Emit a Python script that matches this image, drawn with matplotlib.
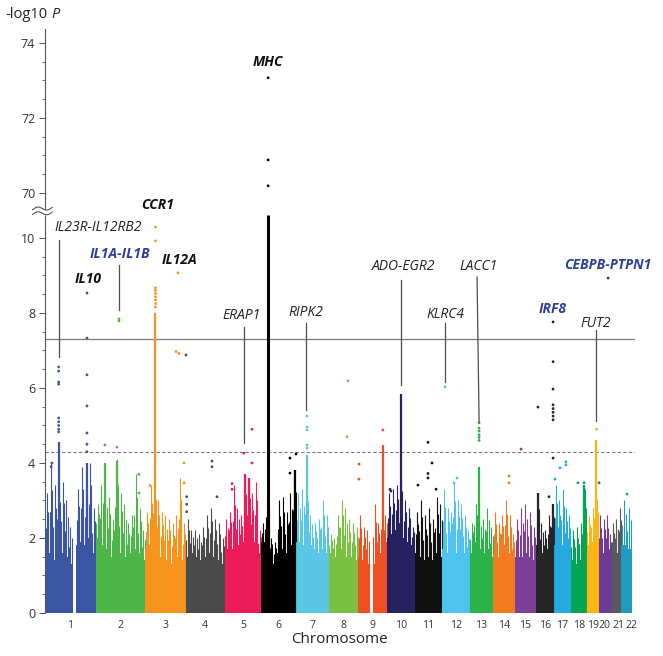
import numpy as np
import matplotlib
matplotlib.use('Agg')
import matplotlib.pyplot as plt

plt.rcParams['font.family'] = ['Open Sans', 'DejaVu Sans']

# ==========================================
# 1. data
# ==========================================
chroms = [str(i) for i in range(1, 23)]
chrom_len = [249, 243, 198, 191, 181, 171, 159, 146, 141, 136, 135,
             134, 115, 107, 103, 90, 81, 78, 59, 63, 48, 51]

# dense body of the cloud (evenly spaced bins along each chromosome)
cloud_core = [
    [1.5, 1.6, 1.4, 1.7, 1.6, 1.5, 1.3, 0, 1.8, 1.9, 1.8, 2.0, 1.6],
    [2.0, 1.8, 1.7, 1.6, 1.5, 1.8, 1.6, 1.5, 1.4, 1.6, 1.7, 1.6, 1.4],
    [1.7, 1.8, 2.0, 1.7, 1.5, 1.4, 1.5, 1.3, 1.5, 1.6, 1.4],
    [1.5, 1.6, 1.5, 1.4, 1.4, 1.5, 1.6, 1.5, 1.4, 1.3],
    [1.7, 1.8, 1.7, 1.8, 1.7, 1.9, 1.8, 1.7, 1.9, 1.6],
    [1.9, 2.2, 1.5, 1.3, 1.6, 1.7, 1.6, 1.8, 1.9],
    [1.9, 1.8, 2.0, 1.8, 1.7, 1.6, 1.7, 1.6],
    [1.6, 1.5, 1.6, 1.7, 1.5, 1.4, 1.5, 1.4],
    [1.5, 1.4, 1.3, 0, 1.3, 1.5, 1.6, 1.9],
    [2.0, 2.1, 2.2, 2.4, 2.0, 1.9, 1.8],
    [1.6, 1.5, 1.4, 1.5, 1.4, 1.6, 1.5],
    [1.7, 1.6, 1.7, 1.8, 1.6, 1.7, 1.6, 1.4],
    [1.6, 1.9, 1.7, 1.6, 1.7, 1.5],
    [1.6, 1.5, 1.7, 1.8, 1.6, 1.4],
    [1.5, 1.5, 1.6, 1.5, 1.4],
    [1.8, 1.6, 1.5, 1.7, 1.8],
    [1.8, 1.7, 1.8, 1.6, 1.5],
    [1.4, 1.3, 1.4, 1.6],
    [1.8, 1.9, 2.0],
    [1.5, 1.6, 1.5, 1.4],
    [1.5, 1.6, 1.7],
    [1.8, 1.7],
]
# ragged upper edge of the cloud, same bins
cloud_top = [
    [3.2, 4.0, 3.4, 3.5, 3.5, 3.0, 2.3, 0, 3.3, 3.9, 3.5, 4.0, 2.8],
    [2.9, 3.4, 3.3, 3.1, 2.5, 4.1, 3.2, 2.9, 2.4, 2.6, 3.7, 2.8, 2.2],
    [2.7, 3.4, 3.5, 3.0, 2.7, 2.6, 2.5, 2.4, 2.6, 3.6, 2.4],
    [2.5, 2.2, 2.2, 2.1, 2.3, 2.6, 2.8, 2.5, 2.4, 2.0],
    [2.5, 2.7, 3.4, 2.8, 2.6, 3.7, 3.6, 3.2, 3.5, 2.2],
    [2.4, 3.0, 2.0, 1.9, 3.0, 3.1, 2.7, 3.2, 3.8],
    [3.2, 3.3, 3.4, 2.6, 2.4, 2.5, 3.0, 2.6],
    [2.1, 2.0, 2.6, 3.0, 2.8, 2.5, 2.4, 2.3],
    [2.6, 2.3, 2.2, 0, 2.9, 2.4, 3.0, 2.6],
    [3.2, 3.3, 3.4, 3.6, 3.0, 2.8, 2.3],
    [2.7, 3.0, 2.6, 2.8, 2.5, 3.1, 2.9],
    [3.3, 2.8, 2.7, 3.5, 3.0, 2.9, 2.6, 2.2],
    [2.4, 2.9, 2.6, 2.5, 2.8, 2.3],
    [2.7, 2.4, 2.6, 3.0, 2.6, 2.1],
    [2.5, 2.8, 2.9, 2.7, 2.3],
    [3.2, 2.4, 2.2, 2.6, 2.9],
    [3.4, 3.0, 3.3, 2.8, 2.6],
    [2.2, 2.3, 2.4, 3.3],
    [2.6, 2.8, 3.0],
    [2.6, 2.5, 2.6, 2.1],
    [2.4, 2.5, 2.8],
    [3.0, 2.8],
]

# densely packed signal columns: chromosome, position (Mb), top -log10 P
col_chrom = [1, 1, 2, 2, 3, 5, 5, 6, 6, 7, 9, 10, 13, 16, 16, 18, 19]
col_pos = [67, 206, 45, 104, 50, 100, 120, 33, 165, 53, 120, 68, 46, 10, 84, 65, 48]
col_top = [4.55, 4.0, 4.0, 4.06, 8.0, 3.7, 3.6, 10.6, 3.8, 4.2, 4.48, 5.84, 3.9, 3.2, 2.9, 3.4, 4.6]

# individual SNPs standing out of the cloud
snp_chrom = ([1] * 9 + [1] * 7 + [1, 1] + [2, 2, 2, 2, 2, 2] + [3] * 9
             + [3, 3, 3, 4, 3, 3, 3] + [4, 4, 4, 4, 4, 4] + [5, 5, 5, 5, 5]
             + [6, 6, 6] + [6, 6, 6] + [7] * 5 + [8, 8] + [9, 9, 9] + [10, 10]
             + [11] * 6 + [12, 12, 12] + [13] * 6 + [14, 14] + [15]
             + [16] * 8 + [16, 16, 16] + [17] * 4 + [18, 18] + [19] + [20, 20] + [22])
snp_pos = ([67] * 9 + [206] * 7 + [34, 30] + [45, 104, 114, 114, 212, 212] + [50] * 9
           + [160.6, 151, 165, 2, 190, 190, 23] + [5, 5, 5, 129, 129, 154]
           + [135, 135, 95, 37, 37]
           + [33, 33, 33] + [140, 140, 170] + [53] * 5 + [95, 90] + [3, 2, 120] + [14, 18]
           + [64, 64, 64, 84, 15, 104] + [13, 72, 57] + [46] * 6 + [78, 78] + [30]
           + [84] * 8 + [10, 84, 64] + [57, 57, 28, 3] + [65, 35] + [48] + [46, 2] + [28])
snp_val = ([6.56, 6.45, 6.16, 6.10, 5.2, 5.1, 5.0, 4.9, 4.83]
           + [8.53, 7.33, 6.35, 5.52, 4.8, 4.5, 4.3] + [4.0, 3.9]
           + [4.48, 4.42, 7.84, 7.79, 3.7, 3.2]
           + [10.29, 9.92, 8.67, 8.6, 8.52, 8.43, 8.35, 8.25, 8.16]
           + [9.07, 6.97, 6.92, 6.88, 4.0, 3.47, 3.4]
           + [3.1, 2.9, 2.7, 4.05, 3.9, 3.1]
           + [4.9, 4.0, 4.26, 3.45, 3.3]
           + [73.07, 70.88, 70.19] + [4.13, 3.73, 4.24]
           + [5.25, 4.96, 4.88, 4.48, 4.4] + [6.19, 4.7] + [3.97, 3.57, 4.88] + [3.3, 3.25]
           + [4.55, 3.72, 3.6, 4.0, 3.41, 3.3] + [6.03, 3.6, 3.47]
           + [5.07, 4.93, 4.85, 4.75, 4.68, 4.6] + [3.65, 3.47] + [4.37]
           + [7.76, 6.7, 5.97, 5.55, 5.45, 5.35, 5.25, 5.15] + [5.49, 4.13, 3.1]
           + [4.03, 3.95, 3.87, 3.57] + [3.47, 3.47] + [4.9] + [8.93, 3.47] + [3.17])

genes = ['MHC', 'CCR1', 'IL23R-IL12RB2', 'IL1A-IL1B', 'IL10', 'IL12A', 'ERAP1', 'RIPK2',
         'ADO-EGR2', 'LACC1', 'KLRC4', 'IRF8', 'FUT2', 'CEBPB-PTPN1']

genome_wide = 7.3
suggestive = 4.3

# ==========================================
# 2. style / layout
# ==========================================
chrom_colors = ['#3a55a4', '#4cb748', '#f7941d', '#4a4a4a', '#ec1b5a', '#000000',
                '#5bc5e6', '#7ac143', '#f04e23', '#262262', '#111111', '#4fc3f0',
                '#2bb34a', '#f47b20', '#7e3f98', '#262626', '#27aae1', '#00a651',
                '#fdb515', '#6f3996', '#58595b', '#1f9bc2']
blue = '#2e3f97'
# label x (genome Mb), label y, bold?, colour, leader line (x0, x1, y_top, y_bottom) or None
gene_layout = {
    'MHC':           (1094, 14.69, True, '#111111', None),
    'CCR1':          (554, 10.88, True, '#111111', None),
    'IL23R-IL12RB2': (260, 10.27, False, '#222222', (69, 69, 9.95, 6.83)),
    'IL1A-IL1B':     (368, 9.57, True, blue, (363, 363, 9.28, 8.08)),
    'IL10':          (211, 8.91, True, '#111111', None),
    'IL12A':         (662, 9.41, True, '#111111', None),
    'ERAP1':         (962, 7.92, False, '#222222', (976, 976, 7.63, 4.53)),
    'RIPK2':         (1281, 8.00, False, '#222222', (1281, 1281, 7.73, 5.41)),
    'ADO-EGR2':      (1757, 9.25, False, '#222222', (1747, 1747, 8.88, 6.08)),
    'LACC1':         (2125, 9.25, False, '#222222', (2120, 2130, 8.96, 5.09)),
    'KLRC4':         (1963, 7.97, False, '#222222', (1963, 1963, 7.73, 6.16)),
    'IRF8':          (2493, 8.11, True, blue, None),
    'FUT2':          (2704, 7.73, False, '#222222', (2704, 2704, 7.55, 5.12)),
    'CEBPB-PTPN1':   (2763, 9.28, True, blue, None),
}
# share of the gap between body and edge reached by each streak inside a bin
streak_share = [0.45, 1.0, 0.7]
# small shifts (Mb) of crowded chromosome labels at the right end
label_nudge = {'20': -4, '21': 10, '22': 22}


def ty(v):
    # broken axis: values from 70 upwards are shifted down onto 11.2
    v = np.asarray(v, dtype=float)
    return np.where(v > 50, v - 70 + 11.2, v)


offsets = np.concatenate([[0], np.cumsum(chrom_len)[:-1]])
centers = offsets + np.array(chrom_len) / 2

fig = plt.figure(figsize=(6.63, 6.56), dpi=100)
ax = fig.add_axes([45 / 663, 43 / 656, 590 / 663, 584 / 656])

# ==========================================
# 3. cloud per chromosome
# ==========================================
for i in range(22):
    core = np.array(cloud_core[i])
    top = np.array(cloud_top[i])
    n = len(core)
    edges = offsets[i] + np.linspace(0, chrom_len[i], n + 1)
    w = edges[1] - edges[0]
    ax.fill_between(edges, 0, np.append(core, core[-1]), step='post',
                    color=chrom_colors[i], lw=0, zorder=2)
    # sparse points between body and edge drawn as thin streaks
    for k, f in enumerate(streak_share):
        xs = edges[:-1] + w * (k + 0.5) / len(streak_share)
        ax.vlines(xs, 0, core + (top - core) * f, color=chrom_colors[i], lw=0.8, zorder=2)

for c, p, t in zip(col_chrom, col_pos, col_top):
    ax.vlines(offsets[c - 1] + p, 0, t, color=chrom_colors[c - 1],
              lw=2.2 if t > 10 else 1.6, zorder=3)

sx = [offsets[c - 1] + p for c, p in zip(snp_chrom, snp_pos)]
scol = [chrom_colors[c - 1] for c in snp_chrom]
scol[snp_chrom.index(20)] = '#4b2a6e'
ax.scatter(sx, ty(snp_val), s=4, c=scol, lw=0, zorder=4)

# thresholds
ax.axhline(genome_wide, color='#7a7a7a', lw=0.9, zorder=1)
ax.axhline(suggestive, color='#7a7a7a', lw=0.8, ls=(0, (3, 2)), zorder=1)

# gene labels
for g in genes:
    x, y, bold, colr, line = gene_layout[g]
    ax.text(x, y, g, ha='center', va='center', fontsize=10, style='italic',
            fontweight='bold' if bold else 'normal', color=colr, zorder=5)
    if line is not None:
        ax.plot([line[0], line[1]], [line[2], line[3]], color='#4d4d4d', lw=0.9, zorder=5)

# ==========================================
# 4. axes
# ==========================================
ax.set_xlim(0, 2895)
ax.set_ylim(0, 15.57)
for s in ['top', 'right', 'bottom']:
    ax.spines[s].set_visible(False)
ax.spines['left'].set_color('#555555')
ax.spines['left'].set_linewidth(0.8)

major_v = [0, 2, 4, 6, 8, 10, 70, 72, 74]
minor_v = list(np.arange(0, 10.01, 0.5)) + list(np.arange(70, 74.01, 0.5))
ax.set_yticks(ty(major_v))
ax.set_yticklabels([str(v) for v in major_v], fontsize=9, color='#333333')
ax.set_yticks(ty(minor_v), minor=True)
ax.tick_params(axis='y', which='major', length=4, width=0.7, color='#555555', pad=3)
ax.tick_params(axis='y', which='minor', length=2.2, width=0.6, color='#555555')

ax.set_xticks([c + label_nudge.get(nm, 0) for c, nm in zip(centers, chroms)])
ax.set_xticklabels(chroms, fontsize=7.6, color='#333333')
ax.tick_params(axis='x', length=0, pad=5)
ax.set_xlabel('Chromosome', fontsize=11, color='#222222', labelpad=1)

t1 = fig.text(5 / 663, 1 - 15 / 656, '-log10', fontsize=10.5, color='#222222',
              va='center', ha='left')
fig.canvas.draw()
bb = t1.get_window_extent()
fig.text((bb.x1 + 4) / 663, 1 - 15 / 656, 'P', fontsize=10.5, color='#222222',
         va='center', ha='left', style='italic')

# axis-break mark
bx = np.linspace(-0.021, 0.012, 40)
wave = 0.0035 * np.sin((bx - bx[0]) / (bx[-1] - bx[0]) * 2 * np.pi)
by = 10.69 / 15.57
tilt = (bx - bx[0]) * 0.12
ax.fill_between(bx, by - 0.004 + wave + tilt, by + 0.004 + wave + tilt, color='white',
                transform=ax.transAxes, clip_on=False, zorder=6)
for d in (-0.004, 0.004):
    ax.plot(bx, by + d + wave + tilt, color='#555555', lw=0.8, transform=ax.transAxes,
            clip_on=False, zorder=7)

fig.savefig('out.png', dpi=100)
